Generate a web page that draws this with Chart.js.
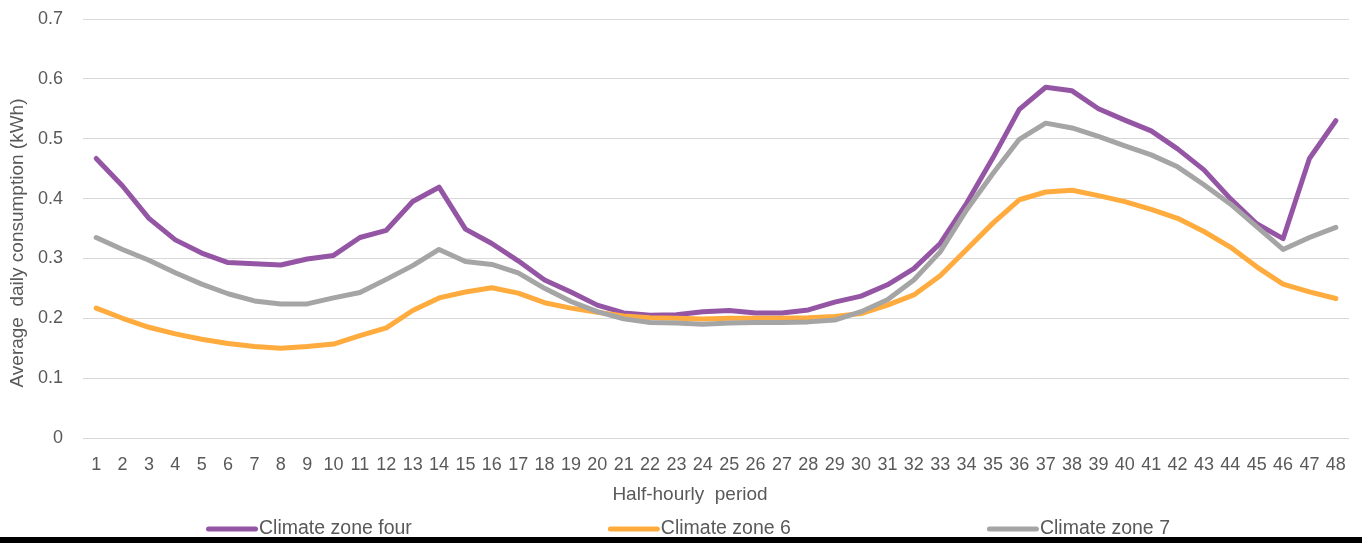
<!DOCTYPE html>
<html>
<head>
<meta charset="utf-8">
<title>Average daily consumption by climate zone</title>
<script src="https://cdn.jsdelivr.net/npm/chart.js@4.4.1/dist/chart.umd.min.js"></script>
<style>
    html, body { margin: 0; padding: 0; background: #fff; }
    #wrap { position: relative; width: 1362px; height: 543px; }
    #lineChart { display: block; }
    #bottom-bar { position: absolute; left: 0; bottom: 0; width: 1362px; height: 6px; background: #000; }
</style>
</head>
<body>
<div id="wrap">
    <canvas id="lineChart" width="1362" height="543"></canvas>
    <div id="bottom-bar"></div>
</div>
<script>
// half-hourly periods (x axis)
const periods = ["1", "2", "3", "4", "5", "6", "7", "8", "9", "10", "11", "12", "13", "14", "15", "16",
    "17", "18", "19", "20", "21", "22", "23", "24", "25", "26", "27", "28", "29", "30", "31", "32",
    "33", "34", "35", "36", "37", "38", "39", "40", "41", "42", "43", "44", "45", "46", "47", "48"];

// average daily consumption, kWh
const zoneFour = [0.467, 0.421, 0.367, 0.331, 0.309, 0.293, 0.291, 0.289, 0.299, 0.305,
    0.335, 0.347, 0.395, 0.419, 0.349, 0.325, 0.296, 0.264, 0.244, 0.222,
    0.209, 0.205, 0.206, 0.211, 0.213, 0.209, 0.209, 0.214, 0.227, 0.237,
    0.256, 0.283, 0.325, 0.392, 0.468, 0.549, 0.586, 0.580, 0.550, 0.531,
    0.513, 0.483, 0.448, 0.400, 0.358, 0.333, 0.467, 0.530];
const zoneSix = [0.217, 0.200, 0.185, 0.174, 0.165, 0.158, 0.153, 0.150, 0.153, 0.157,
    0.171, 0.184, 0.213, 0.234, 0.244, 0.251, 0.242, 0.226, 0.217, 0.210,
    0.204, 0.201, 0.200, 0.199, 0.200, 0.200, 0.200, 0.201, 0.203, 0.208,
    0.222, 0.239, 0.271, 0.315, 0.359, 0.398, 0.411, 0.414, 0.405, 0.395,
    0.382, 0.367, 0.345, 0.319, 0.286, 0.257, 0.244, 0.233];
const zoneSeven = [0.335, 0.315, 0.297, 0.276, 0.257, 0.241, 0.229, 0.224, 0.224, 0.234,
    0.243, 0.265, 0.288, 0.315, 0.295, 0.290, 0.276, 0.250, 0.228, 0.211,
    0.199, 0.193, 0.192, 0.190, 0.192, 0.193, 0.193, 0.194, 0.197, 0.211,
    0.231, 0.264, 0.311, 0.381, 0.442, 0.499, 0.526, 0.518, 0.504, 0.488,
    0.473, 0.453, 0.423, 0.391, 0.353, 0.315, 0.335, 0.352];

const seriesNames = ["Climate zone four", "Climate zone 6", "Climate zone 7"];
const seriesColors = ["#9555A5", "#FFAB3E", "#A5A5A5"];

const FONT = "'Liberation Sans', Arial, sans-serif";
const TEXT_COLOR = "#595959";

document.addEventListener("DOMContentLoaded", function () {
    // axis titles + legend drawn by hand so they sit where Excel put them
    const excelDecor = {
        id: "excelDecor",
        afterDraw(chart) {
            const ctx = chart.ctx;
            ctx.save();
            ctx.fillStyle = TEXT_COLOR;
            ctx.font = "19px " + FONT;
            ctx.textBaseline = "middle";

            // y title
            ctx.save();
            ctx.translate(18, 243);
            ctx.rotate(-Math.PI / 2);
            ctx.textAlign = "center";
            ctx.fillText("Average  daily consumption (kWh)", 0, 0);
            ctx.restore();

            // x title
            ctx.textAlign = "center";
            ctx.fillText("Half-hourly  period", 690, 495);

            // legend
            ctx.font = "19.5px " + FONT;
            const sampleW = 52, gap = 196, legendY = 529;
            const items = chart.data.datasets.map(ds => ({
                label: ds.label,
                color: ds.borderColor,
                w: sampleW + 1 + ctx.measureText(ds.label).width
            }));
            let total = items.reduce((s, it) => s + it.w, 0) + gap * (items.length - 1);
            let x = 688 - total / 2;
            ctx.textAlign = "left";
            items.forEach(it => {
                ctx.strokeStyle = it.color;
                ctx.lineWidth = 5;
                ctx.lineCap = "round";
                ctx.beginPath();
                ctx.moveTo(x + 2.5, legendY);
                ctx.lineTo(x + sampleW - 2.5, legendY);
                ctx.stroke();
                ctx.fillText(it.label, x + sampleW + 1, legendY);
                x += it.w + gap;
            });
            ctx.restore();
        }
    };

    const ctx = document.getElementById("lineChart").getContext("2d");
    const seriesValues = [zoneFour, zoneSix, zoneSeven];
    const drawOrder = [2, 1, 0]; // later series painted on top, like Excel

    new Chart(ctx, {
        type: "line",
        data: {
            labels: periods,
            datasets: seriesValues.map((vals, i) => ({
                label: seriesNames[i],
                data: vals,
                borderColor: seriesColors[i],
                backgroundColor: seriesColors[i],
                borderWidth: 5,
                borderCapStyle: "round",
                borderJoinStyle: "round",
                pointRadius: 0,
                tension: 0,
                fill: false,
                order: drawOrder[i]
            }))
        },
        options: {
            responsive: false,
            animation: false,
            layout: { padding: { top: 19, right: 13, left: 0, bottom: 0 } },
            plugins: {
                legend: { display: false },
                tooltip: { enabled: false }
            },
            scales: {
                x: {
                    offset: true,
                    grid: { display: false, drawTicks: false },
                    border: { display: false },
                    ticks: {
                        color: TEXT_COLOR,
                        font: { family: FONT, size: 18 },
                        padding: 16,
                        maxRotation: 0,
                        autoSkip: false
                    },
                    afterFit(scale) { scale.height = 105; }
                },
                y: {
                    min: 0,
                    max: 0.7,
                    grid: { color: "#D9D9D9", lineWidth: 1, drawTicks: false },
                    border: { display: false },
                    ticks: {
                        stepSize: 0.1,
                        color: TEXT_COLOR,
                        font: { family: FONT, size: 18 },
                        padding: 20,
                        callback: value => value === 0 ? "0" : value.toFixed(1)
                    },
                    afterFit(scale) {
                        scale.width = 83;
                        scale.paddingTop = 0;
                        scale.paddingBottom = 0;
                    }
                }
            }
        },
        plugins: [excelDecor]
    });
});
</script>
</body>
</html>
